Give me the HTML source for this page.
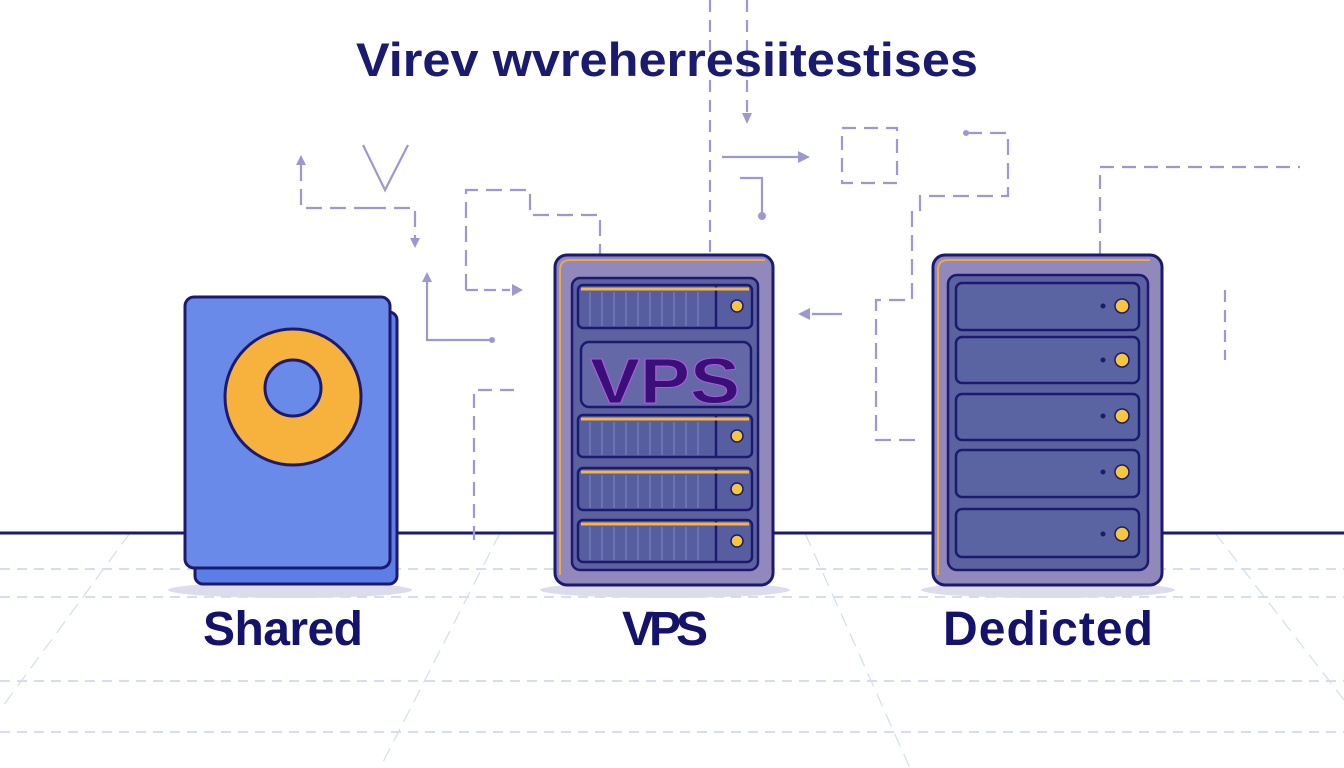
<!DOCTYPE html>
<html><head><meta charset="utf-8"><style>html,body{margin:0;padding:0;background:#fff}svg{display:block}</style></head>
<body>
<svg width="1344" height="768" viewBox="0 0 1344 768" xmlns="http://www.w3.org/2000/svg" font-family="Liberation Sans, sans-serif">
<rect width="1344" height="768" fill="#fff"/>
<g stroke="#c9d3e6" stroke-width="1.5" stroke-dasharray="10 7" fill="none">
<line x1="0" y1="569" x2="1344" y2="569"/>
<line x1="0" y1="597" x2="1344" y2="597"/>
<line x1="0" y1="681" x2="1344" y2="681"/>
<line x1="0" y1="732" x2="1344" y2="732"/>
</g>
<g stroke="#cfe0ec" stroke-width="1.2" stroke-dasharray="14 8" fill="none">
<line x1="130" y1="533" x2="0" y2="710"/>
<line x1="500" y1="533" x2="380" y2="768"/>
<line x1="805" y1="533" x2="910" y2="768"/>
<line x1="1215" y1="533" x2="1344" y2="700"/>
</g>
<line x1="0" y1="533" x2="1344" y2="533" stroke="#1c1a6e" stroke-width="3"/>
<g stroke="#9d98cf" stroke-width="2.2" fill="none">
<line x1="710" y1="0" x2="710" y2="255" stroke-dasharray="12 8"/>
<line x1="747" y1="0" x2="747" y2="120" stroke-dasharray="12 8"/>
<path d="M301 165 V208 H370 M370 208 H415 V240" stroke-dasharray="16 8"/>
<path d="M363 145 L385 190 L408 145"/>
<path d="M466 290 V190 H530 V215 H600 V255" stroke-dasharray="16 8"/>
<line x1="466" y1="290" x2="510" y2="290" stroke-dasharray="12 6"/>
<path d="M427 280 V340 H490"/>
<line x1="722" y1="157" x2="800" y2="157"/>
<path d="M740 178 H762 V215"/>
<rect x="842" y="128" width="55" height="55" stroke-dasharray="14 8"/>
<path d="M966 133 H1008 V196 H920 V210 H912 V300 H876 V440 H920" stroke-dasharray="16 8"/>
<path d="M1100 255 V167 H1300" stroke-dasharray="14 8"/>
<line x1="812" y1="314" x2="842" y2="314"/>
<path d="M474 540 V390 H520" stroke-dasharray="14 8"/>
<line x1="1225" y1="290" x2="1225" y2="360" stroke-dasharray="12 8"/>
</g>
<g fill="#9d98cf">
<polygon points="296,165 306,165 301,155"/>
<polygon points="410,238 420,238 415,248"/>
<polygon points="422,282 432,282 427,272"/>
<polygon points="512,284 512,296 523,290"/>
<polygon points="798,151 798,163 810,157"/>
<polygon points="742,113 752,113 747,124"/>
<polygon points="810,308 810,320 798,314"/>
<circle cx="762" cy="216" r="4"/><circle cx="492" cy="340" r="3"/><circle cx="966" cy="133" r="3"/>
</g>
<text x="667" y="76" text-anchor="middle" font-size="47" font-weight="bold" fill="#1a1a6e" textLength="622" lengthAdjust="spacingAndGlyphs">Virev wvreherresiitestises</text>
<ellipse cx="290" cy="590" rx="122" ry="8" fill="#dcdcec"/>
<ellipse cx="665" cy="590" rx="125" ry="8" fill="#dcdcec"/>
<ellipse cx="1048" cy="590" rx="127" ry="8" fill="#dcdcec"/>
<rect x="195" y="312" width="202" height="272" rx="8" fill="#5b7fe6" stroke="#1c1a6e" stroke-width="3"/>
<rect x="185" y="297" width="205" height="271" rx="9" fill="#6a8aea" stroke="#1c1a6e" stroke-width="3"/>
<circle cx="293" cy="397" r="68" fill="#f6b23c" stroke="#1c1a6e" stroke-width="3"/>
<circle cx="293" cy="388" r="28" fill="#6a8aea" stroke="#1c1a6e" stroke-width="3"/>
<rect x="555" y="255" width="218" height="330" rx="12" fill="#9189bc" stroke="#1c1a6e" stroke-width="3"/>
<path d="M560 575 V270 Q560 260 570 260 H765" stroke="#f0a64a" stroke-width="2" fill="none"/>
<rect x="572" y="278" width="186" height="292" rx="8" fill="#5c619f" stroke="#1c1a6e" stroke-width="2.5"/>
<g stroke="#1c1a6e" stroke-width="2.5">
<rect x="578" y="285" width="174" height="43" rx="5" fill="#565ea0"/>
<rect x="578" y="415" width="174" height="42" rx="5" fill="#565ea0"/>
<rect x="578" y="468" width="174" height="42" rx="5" fill="#565ea0"/>
<rect x="578" y="520" width="174" height="42" rx="5" fill="#565ea0"/>
<rect x="581" y="342" width="170" height="65" rx="8" fill="#6568a6"/>
<line x1="716" y1="285" x2="716" y2="328"/><line x1="716" y1="415" x2="716" y2="457"/>
<line x1="716" y1="468" x2="716" y2="510"/><line x1="716" y1="520" x2="716" y2="562"/>
</g>
<g stroke="#7d86bf" stroke-width="1">
<path d="M590 292V326M602 292V326M614 292V326M626 292V326M638 292V326M650 292V326M662 292V326M674 292V326M686 292V326M698 292V326"/>
<path d="M590 422V455M602 422V455M614 422V455M626 422V455M638 422V455M650 422V455M662 422V455M674 422V455M686 422V455M698 422V455"/>
<path d="M590 475V508M602 475V508M614 475V508M626 475V508M638 475V508M650 475V508M662 475V508M674 475V508M686 475V508M698 475V508"/>
<path d="M590 527V560M602 527V560M614 527V560M626 527V560M638 527V560M650 527V560M662 527V560M674 527V560M686 527V560M698 527V560"/>
</g>
<g stroke="#f3b44a" stroke-width="3">
<line x1="581" y1="289" x2="749" y2="289"/><line x1="581" y1="419" x2="749" y2="419"/>
<line x1="581" y1="472" x2="749" y2="472"/><line x1="581" y1="524" x2="749" y2="524"/>
</g>
<g fill="#f7c641" stroke="#1c1a6e" stroke-width="1.5">
<circle cx="737" cy="306" r="6"/><circle cx="737" cy="436" r="6"/><circle cx="737" cy="489" r="6"/><circle cx="737" cy="541" r="6"/>
</g>
<text x="665" y="403" text-anchor="middle" font-size="64" font-weight="bold" fill="#3a0f78" stroke="#b05ae0" stroke-width="1" textLength="150" lengthAdjust="spacingAndGlyphs">VPS</text>
<rect x="933" y="255" width="229" height="330" rx="12" fill="#9189bc" stroke="#1c1a6e" stroke-width="3"/>
<path d="M938 575 V270 Q938 260 948 260 H1150" stroke="#f0a64a" stroke-width="2" fill="none"/>
<rect x="948" y="275" width="200" height="295" rx="9" fill="#5c619f" stroke="#1c1a6e" stroke-width="2.5"/>
<g fill="#5a64a2" stroke="#1c1a6e" stroke-width="2.5">
<rect x="956" y="283" width="183" height="47" rx="6"/>
<rect x="956" y="337" width="183" height="46" rx="6"/>
<rect x="956" y="394" width="183" height="46" rx="6"/>
<rect x="956" y="450" width="183" height="47" rx="6"/>
<rect x="956" y="509" width="183" height="48" rx="6"/>
</g>
<g fill="#f7c641" stroke="#1c1a6e" stroke-width="1.5">
<circle cx="1122" cy="306" r="7"/><circle cx="1122" cy="360" r="7"/><circle cx="1122" cy="416" r="7"/><circle cx="1122" cy="472" r="7"/><circle cx="1122" cy="534" r="7"/>
</g>
<g fill="#1c1a6e">
<circle cx="1103" cy="306" r="2.5"/><circle cx="1103" cy="360" r="2.5"/><circle cx="1103" cy="416" r="2.5"/><circle cx="1103" cy="472" r="2.5"/><circle cx="1103" cy="534" r="2.5"/>
</g>
<g font-size="48" font-weight="bold" fill="#14126a" text-anchor="middle" lengthAdjust="spacingAndGlyphs">
<text x="283" y="645" textLength="160">Shared</text>
<text x="665" y="645" textLength="86">VPS</text>
<text x="1048" y="645" textLength="210">Dedicted</text>
</g>
</svg>
</body></html>
